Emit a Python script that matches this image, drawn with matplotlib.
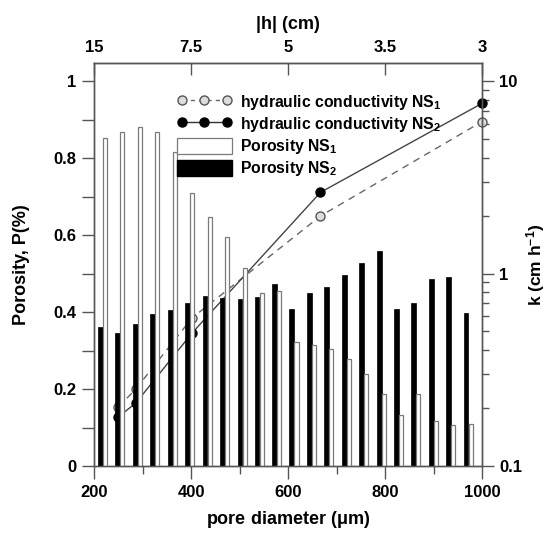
import matplotlib
matplotlib.use("Agg")
import matplotlib.pyplot as plt
from matplotlib.lines import Line2D
from matplotlib.patches import Patch
from matplotlib.ticker import MultipleLocator, FixedLocator, LogLocator, NullFormatter

plt.rcParams['font.family'] = ['Liberation Sans', 'DejaVu Sans']
plt.rcParams['font.weight'] = 'bold'
plt.rcParams['mathtext.fontset'] = 'custom'
plt.rcParams['mathtext.rm'] = 'Liberation Sans:bold'
plt.rcParams['mathtext.it'] = 'Liberation Sans:bold'
plt.rcParams['mathtext.bf'] = 'Liberation Sans:bold'

# ---- data ----
pore_diameter = [213, 249, 285, 321, 357, 393, 429, 465, 501, 536, 572,
                 608, 644, 680, 716, 752, 788, 823, 859, 895, 931, 967]
porosity_ns1 = [0.851, 0.867, 0.881, 0.867, 0.815, 0.708, 0.648, 0.594, 0.513, 0.449, 0.455,
                0.322, 0.314, 0.304, 0.278, 0.238, 0.188, 0.133, 0.186, 0.118, 0.107, 0.110]
porosity_ns2 = [0.360, 0.345, 0.369, 0.396, 0.405, 0.423, 0.442, 0.436, 0.434, 0.440, 0.474,
                0.407, 0.450, 0.464, 0.496, 0.528, 0.558, 0.408, 0.423, 0.485, 0.490, 0.397]

hc_diameter = [250, 286, 402, 667, 1000]
k_ns1 = [0.202, 0.251, 0.587, 1.99, 6.15]
k_ns2 = [0.180, 0.212, 0.490, 2.64, 7.65]

top_tick_pos = [200, 400, 600, 800, 1000]
top_tick_labels = ['15', '7.5', '5', '3.5', '3']

# ---- figure ----
W, H = 549, 534
fig = plt.figure(figsize=(W / 100, H / 100), dpi=100)
L, R, T, B = 94, 482, 63, 466
ax = fig.add_axes([L / W, 1 - B / H, (R - L) / W, (B - T) / H])   # k axis (right), lines
axb = ax.twinx()                                                   # porosity axis (left), bars
SP = '#555555'

# lines (drawn first, behind the bars)
ax.plot(hc_diameter, k_ns1, linestyle=(0, (5, 4)), color='#666666', lw=1.0,
        marker='o', ms=6.5, mfc='#dcdcdc', mec='#555555', mew=1.0, clip_on=False)
ax.plot(hc_diameter, k_ns2, linestyle='-', color='#444444', lw=1.0,
        marker='o', ms=6.5, mfc='black', mec='black', clip_on=False)
ax.set_yscale('log')
ax.set_ylim(0.1, 10 ** (1 + 18 / 192.5))
ax.set_xlim(200, 1000)

# bars
axb.bar(pore_diameter, porosity_ns2, width=10, color='black', edgecolor='black', lw=0.5)
axb.bar([d + 9.5 for d in pore_diameter], porosity_ns1, width=8.5, color='white',
        edgecolor='#7a7a7a', lw=0.9)
axb.set_ylim(0, 1 + 18 / 385)
axb.set_xlim(200, 1000)

for a in (ax, axb):
    for s in a.spines.values():
        s.set_color(SP)
        s.set_linewidth(1.0)

# right (k) axis
ax.yaxis.tick_right()
ax.yaxis.set_label_position('right')
ax.yaxis.set_minor_locator(LogLocator(base=10, subs=range(2, 10), numticks=20))
ax.yaxis.set_minor_formatter(NullFormatter())
ax.set_yticks([0.1, 1, 10])
ax.set_yticklabels(['0.1', '1', '10'])
ax.tick_params(axis='y', which='major', direction='out', length=8.5, width=1,
               color=SP, labelsize=12, pad=4, left=False, right=True)
ax.tick_params(axis='y', which='minor', direction='out', length=5, width=1, color=SP,
               left=False, right=True)

# left (porosity) axis
axb.yaxis.tick_left()
axb.yaxis.set_label_position('left')
axb.set_yticks([0, 0.2, 0.4, 0.6, 0.8, 1.0])
axb.set_yticklabels(['0', '0.2', '0.4', '0.6', '0.8', '1'])
axb.yaxis.set_minor_locator(MultipleLocator(0.1))
axb.tick_params(axis='y', which='major', direction='out', length=8.6, width=1,
                color=SP, labelsize=12, pad=4)
axb.tick_params(axis='y', which='minor', direction='out', length=8.6, width=1, color=SP)

# bottom axis
ax.xaxis.set_major_locator(FixedLocator([200, 400, 600, 800, 1000]))
ax.xaxis.set_minor_locator(FixedLocator([300, 500, 700, 900]))
ax.tick_params(axis='x', which='major', direction='out', length=9, width=1,
               color=SP, labelsize=12, pad=5)
ax.tick_params(axis='x', which='minor', direction='out', length=5.5, width=1, color=SP)

# top axis
sec = ax.secondary_xaxis('top')
sec.set_xticks(top_tick_pos)
sec.set_xticklabels(top_tick_labels)
sec.tick_params(axis='x', direction='in', length=8.6, width=1, color=SP,
                labelsize=12, pad=6)
sec.spines['top'].set_color(SP)
sec.set_xlabel('|h| (cm)', fontsize=13, fontweight='bold', labelpad=8)

ax.set_xlabel('pore diameter ($\\mu$m)', fontsize=13, fontweight='bold', labelpad=6)
axb.set_ylabel('Porosity, P(%)', fontsize=13, fontweight='bold')
axb.yaxis.set_label_coords((30 - L) / (R - L), 0.5)
ax.set_ylabel('k (cm h$^{-1}$)', fontsize=12.5, fontweight='bold')
ax.yaxis.set_label_coords((524 - L) / (R - L), 0.5)

handles = [
    Line2D([], [], linestyle=(0, (3, 3)), color='#666666', lw=1.0, marker='o', ms=6.5,
           mfc='#dcdcdc', mec='#555555', mew=1.0),
    Line2D([], [], linestyle='-', color='#333333', lw=1.0, marker='o', ms=6.5,
           mfc='black', mec='black'),
    Patch(facecolor='white', edgecolor='#7a7a7a', lw=0.9),
    Patch(facecolor='black', edgecolor='black'),
]
labels = ['hydraulic conductivity NS$_1$', 'hydraulic conductivity NS$_2$',
          'Porosity NS$_1$', 'Porosity NS$_2$']
leg = axb.legend(handles, labels, loc='upper left',
                 bbox_to_anchor=((177 - L) / (R - L), (B - 93) / (B - T)),
                 frameon=False, numpoints=3, handlelength=3.5, handleheight=1.25,
                 handletextpad=0.5, labelspacing=0.2, borderpad=0, borderaxespad=0,
                 prop={'size': 11.3, 'weight': 'bold'})
leg.set_zorder(10)

fig.savefig('out.png', dpi=100)
